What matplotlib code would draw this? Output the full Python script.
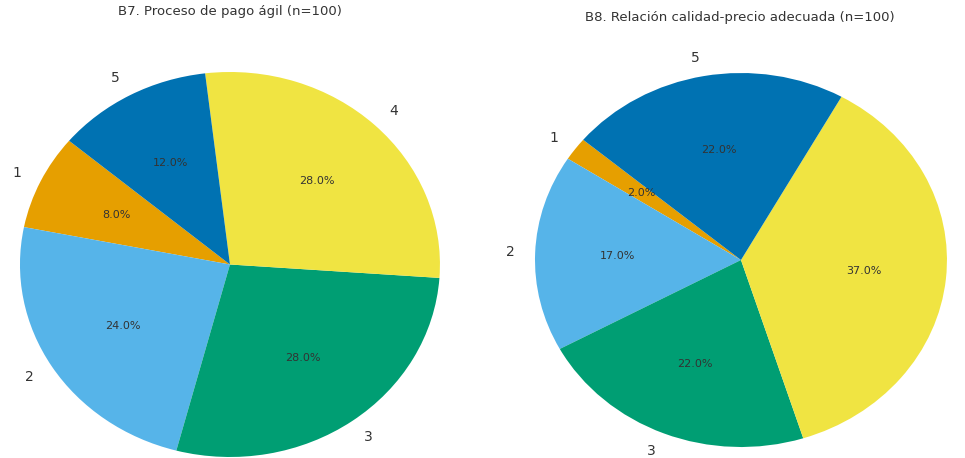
import matplotlib.pyplot as plt

labels = ['1', '2', '3', '4', '5']
b7_values = [8, 24, 28, 28, 12]
b8_values = [2, 17, 22, 37, 22]
colors = ['#E69F00', '#56B4E9', '#009E73', '#F0E442', '#0072B2']

fig = plt.figure(figsize=(9.65, 4.58), dpi=100)

def draw(rect, values, title, title_xy):
    ax = fig.add_axes(rect)
    wedges, texts, autotexts = ax.pie(values, labels=labels, colors=colors,
                                      autopct='%1.1f%%', startangle=140,
                                      textprops={'color': '#333333'})
    for t in texts:
        t.set_fontsize(10)
    for t in autotexts:
        t.set_fontsize(8)
    ax.set_aspect('auto')
    ax.set_xlim(-1, 1)
    ax.set_ylim(-1, 1)
    fig.text(title_xy[0], title_xy[1], title, ha='center', va='center',
             fontsize=9.5, color='#333333')
    return texts

draw([0.0207, 0.0022, 0.4352, 0.8406], b7_values,
     'B7. Proceso de pago ágil (n=100)', (0.238, 1 - 12 / 458))
texts = draw([0.5544, 0.0240, 0.4269, 0.8166], b8_values,
             'B8. Relación calidad-precio adecuada (n=100)', (0.767, 1 - 17 / 458))
# label "4" of the right pie falls outside the canvas in the original
texts[3].set_visible(False)

fig.savefig('out.png', dpi=100)
